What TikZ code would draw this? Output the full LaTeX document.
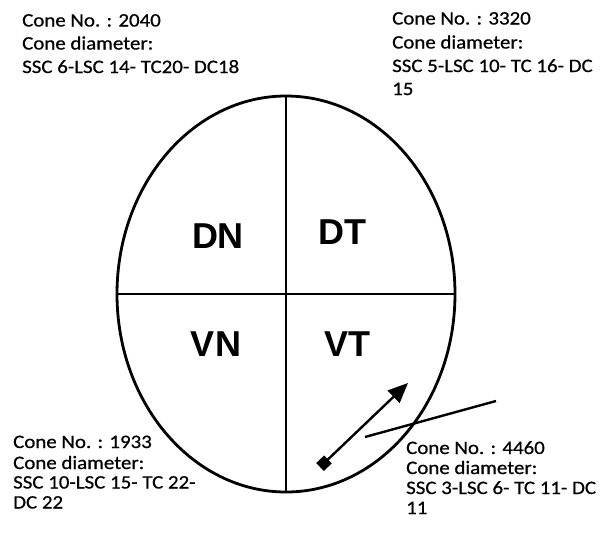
\documentclass[tikz,border=0pt]{standalone}
\usepackage{fontspec}
\newfontfamily\conefont[FakeStretch=1.1,FakeBold=0.6]{Carlito}
\newfontfamily\quadfont{Liberation Sans}
\usetikzlibrary{shapes.geometric,arrows.meta}
\tikzset{
  info/.style={anchor=base west, inner sep=0pt, font=\conefont\fontsize{19}{23}\selectfont},
  quad/.style={anchor=base, inner sep=0pt, font=\quadfont\bfseries\fontsize{36}{40}\selectfont},
  thick line/.style={line width=2.8pt},
  pointer/.style={line width=2.4pt, {Square[length=11pt,width=11pt]}-{Triangle[length=20pt,width=17pt]}},
  cutline/.style={line width=2.4pt}
}
\begin{document}
\begin{tikzpicture}[x=1pt,y=-1pt]
\useasboundingbox[fill=white] (0,0) rectangle (605,544);
% eye outline
\node[draw, ellipse, thick line, minimum width=338pt, minimum height=396pt, inner sep=0pt] (eye) at (286,294) {};
\draw[thick line] (eye.north) -- (eye.south);
\draw[thick line] (eye.west) -- (eye.east);
% quadrant labels
\node[quad] (dn) at (218,248) {DN};
\node[quad] (dt) at (342.5,244.5) {DT};
\node[quad] (vn) at (216,356) {VN};
\node[quad] (vt) at (347,356) {VT};
% top-left block
\node[info] (tl1) at (22,26.5) {Cone No. : 2040};
\node[info] (tl2) at (22,49.5) {Cone diameter:};
\node[info] (tl3) at (22,73) {SSC 6-LSC 14- TC20- DC18};
% top-right block
\node[info] (tr1) at (392,24.5) {Cone No. : 3320};
\node[info] (tr2) at (392,48.5) {Cone diameter:};
\node[info] (tr3) at (392,72) {SSC 5-LSC 10- TC 16- DC};
\node[info] (tr4) at (392,95) {15};
% bottom-left block
\node[info] (bl1) at (13,448) {Cone No. : 1933};
\node[info] (bl2) at (13,469) {Cone diameter:};
\node[info] (bl3) at (13,488.5) {SSC 10-LSC 15- TC 22-};
\node[info] (bl4) at (13,508.5) {DC 22};
% bottom-right block
\node[info] (br1) at (406,454) {Cone No. : 4460};
\node[info] (br2) at (406,474) {Cone diameter:};
\node[info] (br3) at (406,494) {SSC 3-LSC 6- TC 11- DC};
\node[info] (br4) at (406,514) {11};
% arrow and cut line
\coordinate (arrowstart) at (320,467);
\coordinate (arrowend) at (408,383);
\coordinate (cutA) at (365,437);
\coordinate (cutB) at (496,401);
\draw[pointer] (arrowstart) -- (arrowend);
\draw[cutline] (cutA) -- (cutB);
\end{tikzpicture}
\end{document}
